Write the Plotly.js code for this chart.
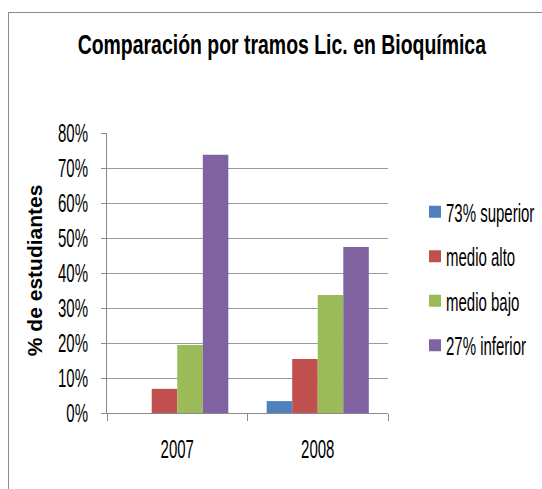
<!DOCTYPE html>
<html>
<head>
<meta charset="utf-8">
<script src="https://cdn.plot.ly/plotly-3.0.1.min.js"></script>
<style>
html,body{margin:0;padding:0;background:#fff;}
#frame{position:absolute;left:8px;top:12px;width:700px;height:700px;border-left:1.5px solid #8a8a8a;border-top:1.5px solid #8a8a8a;}
#chart{position:absolute;left:0;top:0;width:542px;height:489px;}
</style>
</head>
<body>
<div id="frame"></div>
<div id="chart"></div>
<script>
var categories = ["2007", "2008"];
var seriesNames = ["73% superior", "medio alto", "medio bajo", "27% inferior"];
var superior = [0, 0.034];
var medioAlto = [0.069, 0.154];
var medioBajo = [0.194, 0.337];
var inferior = [0.738, 0.474];
var yTickVals = [0, 0.1, 0.2, 0.3, 0.4, 0.5, 0.6, 0.7, 0.8];
var yTickText = ["0%", "10%", "20%", "30%", "40%", "50%", "60%", "70%", "80%"];
var titleText = "Comparación por tramos Lic. en Bioquímica";
var yTitleText = "% de estudiantes";
var colors = ["#4F81BD", "#C0504D", "#9BBB59", "#8064A2"];

var FONT = "'Liberation Sans', Arial, sans-serif";
var allSeries = [superior, medioAlto, medioBajo, inferior];
var data = allSeries.map(function (vals, i) {
  return {
    type: "bar",
    name: seriesNames[i],
    x: categories,
    y: vals,
    marker: {color: colors[i]},
    legendgroup: "g" + i,
    hoverinfo: "none"
  };
});

var layout = {
  width: 542,
  height: 489,
  margin: {l: 107, r: 154, t: 133, b: 76, autoexpand: false},
  paper_bgcolor: "rgba(0,0,0,0)",
  plot_bgcolor: "rgba(0,0,0,0)",
  barmode: "group",
  bargap: 0.273,
  bargroupgap: 0,
  font: {family: FONT, color: "#000", size: 25},
  title: {
    text: titleText,
    font: {family: FONT, size: 27, color: "#000", weight: "bold"},
    xref: "container", yref: "container",
    x: 0.52, xanchor: "center",
    y: 0.908, yanchor: "middle"
  },
  xaxis: {
    type: "category",
    showgrid: false,
    showline: true,
    linecolor: "#8a8a8a",
    linewidth: 1,
    ticks: "outside",
    tickson: "boundaries",
    ticklen: 7,
    tickcolor: "#8a8a8a",
    ticklabelstandoff: 14,
    tickfont: {family: FONT, size: 25},
    zeroline: false
  },
  yaxis: {
    range: [0, 0.8],
    tickvals: yTickVals,
    ticktext: yTickText,
    showgrid: true,
    gridcolor: "#9a9a9a",
    gridwidth: 1,
    showline: true,
    linecolor: "#8a8a8a",
    ticks: "outside",
    ticklen: 5,
    tickcolor: "#8a8a8a",
    ticklabelstandoff: 8,
    zeroline: false,
    tickfont: {family: FONT, size: 25}
  },
  annotations: [{
    text: yTitleText,
    xref: "paper", yref: "paper",
    x: -0.26, y: 0.51,
    xanchor: "center", yanchor: "middle",
    textangle: -90,
    showarrow: false,
    font: {family: FONT, size: 21, weight: "bold", color: "#000"}
  }],
  showlegend: true,
  legend: {
    x: 1.096, xanchor: "left",
    y: 0.80, yanchor: "top",
    tracegroupgap: 9,
    itemwidth: 30,
    font: {family: FONT, size: 25},
    bgcolor: "rgba(0,0,0,0)"
  }
};

function squeeze() {
  var texts = document.querySelectorAll("#chart svg text");
  texts.forEach(function (t) {
    var cls = t.getAttribute("class") || "";
    if (cls.indexOf("annotation-text") >= 0) return;
    var f = cls.indexOf("gtitle") >= 0 ? 0.72 : 0.6;
    var len = t.getComputedTextLength();
    if (len > 0) {
      t.setAttribute("textLength", (len * f).toFixed(2));
      t.setAttribute("lengthAdjust", "spacingAndGlyphs");
    }
    if (cls.indexOf("legendtext") >= 0) {
      t.setAttribute("x", "31");
    }
  });
  document.querySelectorAll("#chart svg .legend .scrollbox").forEach(function (s) {
    s.removeAttribute("clip-path");
  });
}

Plotly.newPlot("chart", data, layout, {staticPlot: true, displayModeBar: false}).then(squeeze);
</script>
</body>
</html>
